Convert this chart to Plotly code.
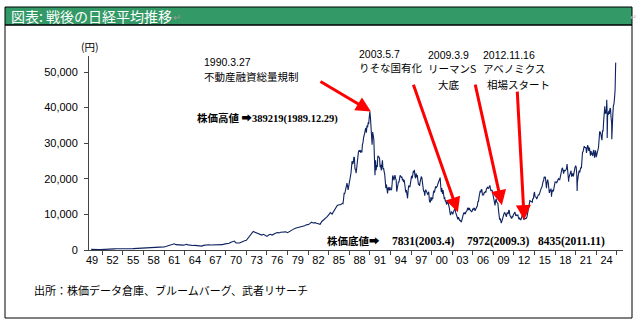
import pandas as pd
import plotly.graph_objects as go

# ---------------- data ----------------
first_date = "1949-05-16"
first_value = 176

# quarter-end closes 1949Q2 .. 1967Q4
quarterly_1949_1967 = [
    145, 140, 109,
    100, 93, 98, 101,
    120, 145, 160, 166,
    210, 280, 330, 362,
    340, 350, 360, 377,
    350, 330, 340, 356,
    360, 375, 400, 425,
    460, 500, 530, 549,
    580, 520, 490, 474,
    500, 560, 610, 666,
    750, 800, 850, 874,
    1000, 1150, 1250, 1356,
    1500, 1750, 1500, 1432,
    1350, 1450, 1380, 1420,
    1600, 1450, 1350, 1225,
    1250, 1300, 1250, 1216,
    1150, 1100, 1300, 1417,
    1500, 1460, 1420, 1430,
    1450, 1380, 1300, 1283,
]
# quarter-end closes 1968Q1 .. 1985Q4
quarterly_1968_1985 = [
    1330, 1500, 1650, 1714,
    1850, 1900, 2200, 2358,
    2500, 2000, 2000, 1987,
    2200, 2500, 2600, 2713,
    3300, 4000, 4500, 5207,
    5000, 4800, 4600, 4306,
    4200, 4400, 4000, 3817,
    4200, 4400, 4200, 4358,
    4700, 4900, 4800, 4990,
    5000, 5200, 5100, 4865,
    5200, 5400, 5800, 6001,
    6200, 6300, 6400, 6569,
    6600, 6800, 7100, 7116,
    7400, 7800, 7600, 7681,
    7500, 7400, 7200, 8016,
    8400, 8700, 9300, 9893,
    10500, 10100, 10800, 11542,
    12500, 12700, 12700, 13113,
]
monthly_1986_1995 = [
    13025, 14176, 15860, 15826, 16461, 17654, 17391, 18789, 17852, 16911, 17897, 18701,
    20024, 20767, 21567, 23274, 25000, 24176, 24488, 26029, 26011, 22765, 22687, 21564,
    23622, 25421, 26260, 27441, 27948, 27769, 28060, 27366, 27923, 27411, 29579, 30159,
    31581, 31985, 32838, 33713, 34266, 32949, 34954, 34431, 35636, 35549, 37269, 38916,
    37189, 34592, 29980, 29584, 33131, 31940, 31036, 25978, 20984, 25194, 22455, 23849,
    23293, 26409, 26292, 26111, 25790, 23291, 23900, 22335, 23916, 25222, 22687, 22984,
    22023, 21339, 19346, 17391, 18348, 15952, 15910, 17555, 17399, 16767, 17684, 16925,
    17024, 16953, 18591, 20919, 20552, 19590, 20380, 21027, 20106, 19704, 16408, 17417,
    18758, 19111, 19112, 19725, 20974, 20644, 20449, 20629, 19564, 19990, 19076, 19723,
    18650, 17053, 16140, 16807, 15437, 14517, 16678, 18117, 17913, 17655, 18744, 19868,
]
monthly_1996_2005 = [
    20813, 20125, 21407, 22041, 21956, 22531, 20693, 20167, 21556, 20467, 21020, 19361,
    18330, 18557, 18003, 19151, 20069, 20605, 20331, 18229, 17888, 16459, 16636, 15259,
    16628, 16831, 16527, 15641, 15671, 15830, 16379, 14108, 13406, 13564, 14883, 13842,
    14499, 14368, 15837, 16702, 16112, 17530, 17862, 17437, 17605, 17942, 18558, 18934,
    19540, 19960, 20337, 17974, 16332, 17411, 15727, 16861, 15747, 14539, 14649, 13786,
    13843, 12884, 12999, 13934, 13262, 12969, 11861, 10714, 9775, 10366, 10697, 10543,
    9998, 10588, 11025, 11493, 11764, 10622, 9878, 9619, 9383, 8640, 9216, 8579,
    8340, 8363, 7973, 7831, 8425, 9083, 9563, 10344, 10219, 10560, 10101, 10677,
    10784, 11042, 11715, 11762, 11236, 11859, 11326, 11082, 10824, 10771, 10899, 11489,
    11388, 11741, 11669, 11009, 11277, 11584, 11900, 12414, 13575, 13607, 14872, 16111,
]
monthly_2006_2015 = [
    16650, 16205, 17060, 16906, 15467, 15505, 15457, 16141, 16128, 16399, 16274, 17226,
    17383, 17604, 17288, 17400, 17876, 18138, 17249, 16569, 16786, 16738, 15681, 15308,
    13593, 13604, 12526, 13850, 14339, 13482, 13377, 13073, 11260, 8577, 8512, 8860,
    7994, 7568, 8110, 8828, 9523, 9958, 10357, 10493, 10133, 10035, 9346, 10546,
    10198, 10126, 11090, 11057, 9769, 9383, 9537, 8824, 9369, 9202, 9937, 10229,
    10238, 10624, 9755, 9850, 9694, 9816, 9833, 8955, 8700, 8988, 8435, 8455,
    8803, 9723, 10084, 9521, 8543, 9007, 8695, 8840, 8870, 8928, 9446, 10395,
    11139, 11559, 12398, 13861, 13775, 13677, 13668, 13389, 14456, 14328, 15662, 16291,
    14915, 14841, 14828, 14304, 14632, 15162, 15621, 15425, 16174, 16414, 17460, 17451,
    17674, 18798, 19207, 19520, 20563, 20236, 20585, 18890, 17388, 19083, 19747, 19034,
]
monthly_2016_2025 = [
    17518, 16027, 16759, 16666, 17235, 15576, 16569, 16887, 16450, 17425, 18308, 19114,
    19041, 19119, 18909, 19197, 19651, 20033, 19925, 19646, 20356, 22012, 22725, 22765,
    23098, 22068, 21454, 22468, 22202, 22305, 22554, 22865, 24120, 21920, 22351, 20015,
    20773, 21385, 21206, 22259, 20601, 21276, 21522, 20704, 21756, 22927, 23294, 23657,
    23205, 21143, 18917, 20194, 21878, 22288, 21710, 23140, 23185, 22977, 26434, 27444,
    27663, 28966, 29179, 28813, 28860, 28792, 27284, 28090, 29453, 28893, 27822, 28792,
    27002, 26527, 27821, 26848, 27280, 26393, 27802, 28092, 25937, 27587, 27969, 26095,
    27327, 27446, 28041, 28856, 30888, 33189, 33172, 32619, 31858, 30859, 33487, 33464,
    36287, 39166, 40369, 38406, 38488, 39583, 39102, 38648, 37920, 39081, 38208, 39895,
    39572, 37156, 35618, 36045, 37965, 40487, 41070, 42718, 44933, 52411,
]
# intramonth extremes visible in the picture
spike_dates = ["2016-06-24", "2018-12-25", "2020-03-19", "2024-07-11",
               "2024-08-05", "2025-04-07", "2025-11-04"]
spike_values = [14952, 19155, 16552, 42224, 31458, 31136, 52636]

tick_years = list(range(1949, 2025, 3))
tick_labels = [f"{y % 100:02d}" for y in tick_years]
y_ticks = [0, 10000, 20000, 30000, 40000, 50000]

# ---------------- build series ----------------
q_vals = quarterly_1949_1967 + quarterly_1968_1985
m_vals = monthly_1986_1995 + monthly_1996_2005 + monthly_2006_2015 + monthly_2016_2025
q_dates = pd.date_range("1949-06-30", periods=len(q_vals), freq="QE")
m_dates = pd.date_range("1986-01-31", periods=len(m_vals), freq="ME")
df = pd.concat([
    pd.DataFrame({"d": [pd.Timestamp(first_date)], "v": [first_value]}),
    pd.DataFrame({"d": q_dates, "v": q_vals}),
    pd.DataFrame({"d": m_dates, "v": m_vals}),
    pd.DataFrame({"d": pd.to_datetime(spike_dates), "v": spike_values}),
]).sort_values("d")

# ---------------- layout helpers ----------------
W, H = 640, 328
L, R, T, B = 89, 17, 56, 78
PW, PH = W - L - R, H - T - B


def px(x):
    return (x - L) / PW


def py(y):
    return (H - B - y) / PH


JP = "Noto Sans CJK JP"
NUM = "Liberation Sans"
SERIF = "Liberation Serif, Noto Sans CJK JP"

fig = go.Figure()
fig.add_trace(go.Scatter(
    x=df["d"], y=df["v"], mode="lines",
    line=dict(color="#0d2260", width=1.1),
    hoverinfo="skip", showlegend=False,
))

fig.update_layout(
    width=W, height=H,
    margin=dict(l=L, r=R, t=T, b=B),
    paper_bgcolor="white", plot_bgcolor="white",
    showlegend=False,
    xaxis=dict(
        type="date",
        range=["1949-01-22", "2026-11-25"],
        tickmode="array",
        tickvals=[pd.Timestamp(f"{y}-07-01") for y in tick_years],
        ticktext=tick_labels,
        ticks="",
        showgrid=False, zeroline=False,
        showline=True, linecolor="#444", linewidth=1,
        tickfont=dict(family=NUM, size=11, color="#000"),
        minor=dict(tickmode="linear", tick0="1948-01-01", dtick="M36",
                   ticks="outside", ticklen=4, tickcolor="#444", showgrid=False),
    ),
    yaxis=dict(
        range=[0, 54500],
        tickmode="array", tickvals=y_ticks, tickformat=",",
        ticks="outside", ticklen=4, tickcolor="#444",
        showgrid=False, zeroline=False,
        showline=True, linecolor="#444", linewidth=1,
        tickfont=dict(family=NUM, size=11, color="#000"),
        ticklabelstandoff=4,
    ),
)

shapes = [
    # title bar
    dict(type="rect", xref="paper", yref="paper",
         x0=px(5), x1=px(632), y0=py(25), y1=py(7),
         fillcolor="#339966", line=dict(color="#000", width=1), layer="below"),
    # frame
    dict(type="rect", xref="paper", yref="paper",
         x0=px(5), x1=px(632), y0=py(318), y1=py(25),
         line=dict(color="#000", width=1), layer="below"),
]
fig.update_layout(shapes=shapes)

ann = []


def text(x, y, s, size=10.5, family=JP, color="#000", anchor="left", bold=False):
    if bold:
        s = f"<b>{s}</b>"
    ann.append(dict(xref="paper", yref="paper", x=px(x), y=py(y), text=s,
                    showarrow=False, xanchor=anchor, yanchor="middle",
                    borderpad=0,
                    font=dict(family=family, size=size, color=color)))


text(10, 16, "図表: 戦後の日経平均推移", size=14, color="white")
text(172, 16, "↵", size=10, color="#9a9a9a")
text(638, 16, "↵", size=8, color="#b0b0b0", anchor="right")
text(90, 47, "(円)", size=10.5, anchor="center")

text(203, 62, "1990.3.27", size=10.5, family=NUM)
text(203, 76, "不動産融資総量規制", size=10.5)
text(358, 54, "2003.5.7", size=10.5, family=NUM)
text(358, 67, "りそな国有化", size=10.5)
text(427, 55, "2009.3.9", size=10.5, family=NUM)
text(427, 68, "リーマンS", size=10.5)
text(437, 84, "大底", size=10.5)
text(482, 55, "2012.11.16", size=10.5, family=NUM)
text(482, 68, "アベノミクス", size=10.5)
text(486, 84, "相場スタート", size=10.5)

text(196, 118, "株価高値 ➡389219(1989.12.29)", size=10.5, family=SERIF, bold=True)
text(326, 241, "株価底値➡", size=10.5, family=SERIF, bold=True)
text(391, 241, "7831(2003.4)", size=11.5, family=SERIF, bold=True)
text(466, 241, "7972(2009.3)", size=11.5, family=SERIF, bold=True)
text(537, 241, "8435(2011.11)", size=11.5, family=SERIF, bold=True)

text(33, 290, "出所：株価データ倉庫、ブルームバーグ、武者リサーチ", size=11)

# red arrows pointing at the events (head in data coords, tail offset in px)
arrows = [
    ("1990-03-01", 38900, -52, -31),
    ("2002-11-01", 10600, -45, -129),
    ("2009-04-01", 12600, -27, -122),
    ("2012-07-01", 8400, -7, -130),
]
for xd, yv, ax, ay in arrows:
    ann.append(dict(x=pd.Timestamp(xd), y=yv, xref="x", yref="y",
                    ax=ax, ay=ay, text="", showarrow=True,
                    arrowhead=2, arrowsize=1, arrowwidth=3, arrowcolor="#ff0000"))

fig.update_layout(annotations=ann)
fig.write_html("out.html")
